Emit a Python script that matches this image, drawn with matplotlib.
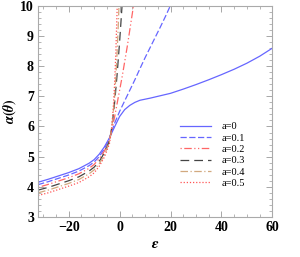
import matplotlib
matplotlib.use("Agg")
import matplotlib.pyplot as plt
from matplotlib.ticker import MultipleLocator

plt.rcParams['font.family'] = ['Liberation Serif', 'DejaVu Serif']
plt.rcParams['font.weight'] = 'bold'
plt.rcParams['mathtext.fontset'] = 'stix'

# valores (epsilon, alpha)
eps_a0 = [-32, -28, -24, -20, -16, -12, -10, -8, -6, -4, -2, 0, 2, 4, 6, 8, 12, 16, 20, 25, 30, 35, 40, 45, 50, 55, 60]
alpha_a0 = [4.15, 4.25, 4.36, 4.47, 4.6, 4.78, 4.9, 5.08, 5.32, 5.62, 5.98, 6.33, 6.56, 6.7, 6.8, 6.87, 6.94, 7.02, 7.1, 7.24, 7.39, 7.55, 7.72, 7.9, 8.1, 8.33, 8.6]

eps_a1 = [-32, -28, -24, -20, -16, -12, -10, -8, -6, -4, -2, 0, 2, 4, 6, 8, 10, 12, 14, 16, 18, 20]
alpha_a1 = [4.07, 4.17, 4.28, 4.39, 4.52, 4.7, 4.82, 5.0, 5.25, 5.6, 6.1, 6.5, 6.85, 7.2, 7.55, 7.92, 8.28, 8.62, 8.96, 9.3, 9.65, 10.02]

eps_a2 = [-32, -28, -24, -20, -16, -12, -10, -8, -6, -4, -3, -2, -1, 0, 1, 2, 3, 4, 5, 5.6]
alpha_a2 = [3.98, 4.08, 4.19, 4.3, 4.43, 4.61, 4.74, 4.93, 5.18, 5.56, 5.9, 6.3, 6.75, 7.2, 7.65, 8.15, 8.65, 9.2, 9.75, 10.1]

eps_a3 = [-32, -28, -24, -20, -16, -12, -10, -8, -6, -4, -3, -2, -1, 0, 1]
alpha_a3 = [3.89, 3.98, 4.09, 4.2, 4.33, 4.52, 4.65, 4.84, 5.12, 5.52, 6.0, 6.75, 7.7, 8.8, 10.05]

eps_a4 = [-32, -28, -24, -20, -16, -12, -10, -8, -6, -4, -3.5, -3, -2.5, -2, -1.5, -1, -0.5, -0.2]
alpha_a4 = [3.8, 3.89, 4.0, 4.11, 4.24, 4.43, 4.56, 4.76, 5.05, 5.48, 5.72, 6.02, 6.45, 6.95, 7.6, 8.4, 9.4, 10.1]

eps_a5 = [-32, -28, -24, -20, -16, -12, -10, -8, -6, -4, -3.5, -3, -2.5, -2, -1.5, -1, -0.85]
alpha_a5 = [3.71, 3.8, 3.91, 4.02, 4.14, 4.33, 4.46, 4.68, 4.98, 5.42, 5.7, 6.05, 6.6, 7.35, 8.4, 9.8, 10.2]

etiquetas = ['a=0', 'a=0.1', 'a=0.2', 'a=0.3', 'a=0.4', 'a=0.5']

fig = plt.figure(figsize=(3.0, 2.57), dpi=100)
ax = fig.add_axes([0.127, 0.156, 0.781, 0.821])

ax.plot(eps_a0, alpha_a0, color='#6666ff', lw=0.9, ls='-', label=etiquetas[0])
ax.plot(eps_a1, alpha_a1, color='#6666ff', lw=0.9, ls=(0, (5, 2)), label=etiquetas[1])
ax.plot(eps_a2, alpha_a2, color='#ff6666', lw=0.9, ls=(0, (1, 2, 6, 2, 1, 2)), label=etiquetas[2])
ax.plot(eps_a3, alpha_a3, color='#444444', lw=0.9, ls=(0, (7, 4)), label=etiquetas[3])
ax.plot(eps_a4, alpha_a4, color='#d2a97f', lw=0.9, ls=(0, (6, 2, 1, 2)), label=etiquetas[4])
ax.plot(eps_a5, alpha_a5, color='#ff5555', lw=0.9, ls=(0, (1, 1.5)), label=etiquetas[5])

ax.set_xlim(-32, 60)
ax.set_ylim(3, 10)
ax.xaxis.set_major_locator(MultipleLocator(20))
ax.xaxis.set_minor_locator(MultipleLocator(5))
ax.yaxis.set_major_locator(MultipleLocator(1))
ax.yaxis.set_minor_locator(MultipleLocator(0.2))
ax.tick_params(which='both', direction='in', top=True, right=True, color='#999999')
ax.tick_params(which='major', length=4, width=0.6, labelsize=10, pad=3)
ax.tick_params(which='minor', length=2, width=0.5)
for sp in ax.spines.values():
    sp.set_color('#aaaaaa')
    sp.set_linewidth(0.8)

ax.set_xlabel(r'$\boldsymbol{\epsilon}$', fontsize=11, labelpad=3)
ax.set_ylabel(r'$\boldsymbol{\alpha(\theta)}$', fontsize=10)
ax.yaxis.set_label_coords(-0.085, 0.5)

ax.legend(loc='upper left', bbox_to_anchor=(0.605, 0.45), frameon=False,
          prop={'size': 7.5, 'weight': 'normal'}, borderpad=0, borderaxespad=0,
          handlelength=3.0, labelspacing=0.2, handletextpad=1.0)

fig.savefig('out.png', dpi=100)
